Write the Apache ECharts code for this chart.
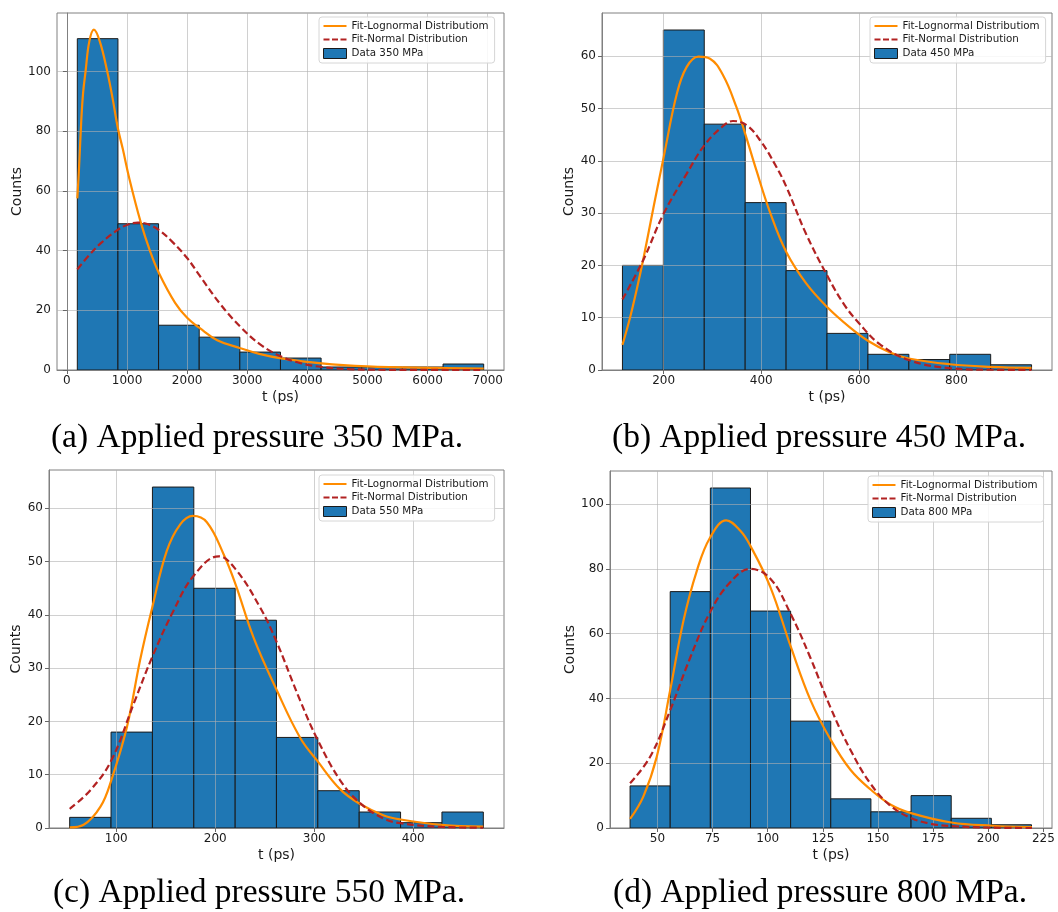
<!DOCTYPE html>
<html>
<head>
<meta charset="utf-8">
<title>Histogram fits</title>
<script src="https://cdn.jsdelivr.net/npm/echarts@6/dist/echarts.min.js"></script>
<style>
  html, body { margin: 0; padding: 0; background: #fff; }
  #main { width: 1058px; height: 912px; }
</style>
</head>
<body>
<div id="main"></div>
<script>
// ---- panel (a) 350 MPa ----
var edgesA = [173, 849, 1525, 2201, 2877, 3553, 4229, 4905, 5581, 6258, 6934];
var countsA = [111, 49, 15, 11, 6, 4, 1, 1, 1, 2];
var lognA = [[173,57.5],[200,67],[239,83.7],[270,93],[310,100],[372,110],[449,114],[548,110],[671,100],[760,91],[848,81],[930,74],[1040,64],[1225,49.7],[1380,40],[1530,32.5],[1800,22.5],[2000,17.5],[2212,14],[2500,10],[2885,7.3],[3200,5.4],[3566,3.9],[4238,2.2],[5000,1.2],[6000,0.7],[6934,0.5]];
var normA = [[173,33.7],[350,38],[560,42.4],[848,47],[1000,48.6],[1180,49.4],[1350,48.8],[1530,46.9],[1750,43],[2000,37.5],[2212,31.5],[2555,22],[2885,14.5],[3220,8.5],[3566,4.5],[3886,2.3],[4238,1],[4700,0.3],[5500,0.05],[6934,0]];
var xTicksA = [0, 1000, 2000, 3000, 4000, 5000, 6000, 7000];
var yTicksA = [0, 20, 40, 60, 80, 100];

// ---- panel (b) 450 MPa ----
var edgesB = [115.5, 199.4, 283.2, 367.1, 451, 534.8, 618.7, 702.6, 786.4, 870.3, 954.1];
var countsB = [20, 65, 47, 32, 19, 7, 3, 2, 3, 1];
var lognB = [[115.5,4.8],[131,10],[145,15.5],[160,22],[180,31.5],[200,40.7],[227,52.8],[247,57.9],[271,59.9],[295,59.5],[322,56.3],[349,50.3],[367,45.2],[390,38.2],[417.5,30.3],[451.6,22.5],[492.5,16.5],[535.5,12],[581,8.2],[618.6,5.6],[663,3.4],[702.5,2.2],[786.4,1.1],[870.2,0.6],[954,0.4]];
var normB = [[115.5,13.5],[158,21],[200,29.9],[247,37.5],[283,42.9],[320,46.5],[342,47.6],[370,46.8],[400,43.6],[430,39],[451.6,35],[492,26],[535.5,18],[570,12.5],[600,9],[642,5],[702.5,1.9],[786,0.35],[870,0.05],[954,0.02]];
var xTicksB = [200, 400, 600, 800];
var yTicksB = [0, 10, 20, 30, 40, 50, 60];

// ---- panel (c) 550 MPa ----
var edgesC = [52.9, 94.7, 136.5, 178.3, 220.1, 261.8, 303.6, 345.4, 387.2, 429, 470.8];
var countsC = [2, 18, 64, 45, 39, 17, 7, 3, 1, 3];
var lognC = [[52.9,0.1],[67,0.6],[84,4],[95,9],[110.8,19],[124,31.5],[136.3,41.4],[151,52],[164.6,57],[177.4,58.6],[191.5,57.4],[208.4,51.4],[220.4,45.8],[238.6,35.8],[261.8,26],[285.6,17],[303.5,12.5],[326,7.3],[345.5,4.6],[369.7,2.4],[387.3,1.6],[429,0.6],[470.7,0.25]];
var normC = [[52.9,3.6],[73.8,7.1],[95,12.7],[117.5,23.3],[136.3,32.1],[157.8,40.8],[178.4,47.4],[203.4,51],[220.4,48.6],[245.3,41.4],[261.8,35],[285.6,24],[303.5,16.5],[326,9],[345.5,4.8],[369.7,1.8],[387.3,0.9],[429,0.2],[470.7,0.05]];
var xTicksC = [100, 200, 300, 400];
var yTicksC = [0, 10, 20, 30, 40, 50, 60];

// ---- panel (d) 800 MPa ----
var edgesD = [37.6, 55.8, 74, 92.2, 110.4, 128.6, 146.8, 165, 183.2, 201.4, 219.6];
var countsD = [13, 73, 105, 67, 33, 9, 5, 10, 3, 1];
var lognD = [[37.6,2.8],[43.6,9.7],[49.7,22],[55.8,42.6],[61.8,64],[67.9,79.5],[73.9,89.7],[81.2,95],[87.6,91.8],[92.1,87.2],[101.2,74.4],[110.5,55.9],[119.4,39.5],[128.6,27.2],[137.6,17.9],[146.8,11.8],[155.8,7.2],[165,4.6],[183.3,1.7],[201.7,0.7],[219.8,0.3]];
var normD = [[37.6,13.8],[46.7,22],[55.8,36.4],[64.8,52.5],[73.9,66.7],[83,75.9],[92.1,80],[101.2,77],[110.5,66],[119.4,52.5],[128.6,37],[137.6,24],[146.8,13.5],[155.8,6.8],[165,3.1],[174,1.3],[183.3,0.6],[201.7,0.1],[219.8,0]];
var xTicksD = [50, 75, 100, 125, 150, 175, 200, 225];
var yTicksD = [0, 20, 40, 60, 80, 100];

var pressures = ['350', '450', '550', '800'];
var captions = ['(a) Applied pressure 350 MPa.', '(b) Applied pressure 450 MPa.',
                '(c) Applied pressure 550 MPa.', '(d) Applied pressure 800 MPa.'];

var LOGN = 'Fit-Lognormal Distributiom';
var NORM = 'Fit-Normal Distribution';
var FONT = 'DejaVu Sans';

var panels = [
  { edges: edgesA, counts: countsA, logn: lognA, norm: normA, xt: xTicksA, yt: yTicksA,
    grid: { left: 57, top: 13, width: 447, height: 357 }, x: [-165, 7272, 1000], y: [0, 119.6, 20],
    yGap: 29, legend: { left: 319, top: 17 }, cap: [257, 438] },
  { edges: edgesB, counts: countsB, logn: lognB, norm: normB, xt: xTicksB, yt: yTicksB,
    grid: { left: 602, top: 13, width: 450, height: 357 }, x: [73.6, 996, 200], y: [0, 68.25, 10],
    yGap: 22, legend: { left: 870, top: 17 }, cap: [819, 438] },
  { edges: edgesC, counts: countsC, logn: lognC, norm: normC, xt: xTicksC, yt: yTicksC,
    grid: { left: 49, top: 470, width: 455, height: 358 }, x: [32, 491.7, 100], y: [0, 67.2, 10],
    yGap: 23, legend: { left: 319, top: 475 }, cap: [259, 893] },
  { edges: edgesD, counts: countsD, logn: lognD, norm: normD, xt: xTicksD, yt: yTicksD,
    grid: { left: 610, top: 471, width: 442, height: 357 }, x: [28.5, 228.9, 25], y: [0, 110.25, 20],
    yGap: 30, legend: { left: 868, top: 476 }, cap: [820, 893] }
];

// legend handles drawn as paths: solid line and dashed line (bounding box forced to 23x10)
var solidIcon = 'path://M0,0 M23,10 M0,4 L23,4 L23,6 L0,6 Z';
var dashIcon = 'path://M0,0 M23,10 M0,4 L6,4 L6,6 L0,6 Z M8.5,4 L14.5,4 L14.5,6 L8.5,6 Z M17,4 L23,4 L23,6 L17,6 Z';

function histItem(params, api) {
  var p0 = api.coord([api.value(0), api.value(2)]);
  var p1 = api.coord([api.value(1), 0]);
  return {
    type: 'rect',
    shape: { x: p0[0], y: p0[1], width: p1[0] - p0[0], height: p1[1] - p0[1] },
    style: { fill: '#1f77b4', stroke: '#1a1a1a', lineWidth: 1 }
  };
}

function plain(v) { return String(v); }

var grids = [], xAxes = [], yAxes = [], series = [], legends = [], graphics = [];
var gridLine = { color: 'rgba(176,176,176,0.6)', width: 1 };

panels.forEach(function (p, i) {
  grids.push(Object.assign({ show: true, borderColor: '#808080', borderWidth: 1, backgroundColor: 'transparent' }, p.grid));

  xAxes.push({
    type: 'value', gridIndex: i, min: p.x[0], max: p.x[1], minInterval: p.x[2], maxInterval: p.x[2], z: 3,
    name: 't (ps)', nameLocation: 'middle', nameGap: 20,
    nameTextStyle: { fontFamily: FONT, fontSize: 14, color: '#1a1a1a' },
    axisLine: { show: true, onZero: false, lineStyle: { color: '#808080' } },
    axisTick: { show: true, length: 4, customValues: p.xt, lineStyle: { color: '#666' } },
    axisLabel: { fontFamily: FONT, fontSize: 12, color: '#1a1a1a', margin: 5, customValues: p.xt, formatter: plain },
    splitLine: { show: true, lineStyle: gridLine }
  });
  yAxes.push({
    type: 'value', gridIndex: i, min: p.y[0], max: p.y[1], minInterval: p.y[2], maxInterval: p.y[2], z: 3,
    name: 'Counts', nameLocation: 'middle', nameGap: p.yGap,
    nameTextStyle: { fontFamily: FONT, fontSize: 14, color: '#1a1a1a' },
    axisLine: { show: true, lineStyle: { color: '#808080' } },
    axisTick: { show: true, length: 4, customValues: p.yt, lineStyle: { color: '#666' } },
    axisLabel: { fontFamily: FONT, fontSize: 12, color: '#1a1a1a', margin: 6, customValues: p.yt, formatter: plain },
    splitLine: { show: true, lineStyle: gridLine }
  });

  var dataName = 'Data ' + pressures[i] + ' MPa';
  series.push({
    type: 'custom', name: dataName, xAxisIndex: i, yAxisIndex: i, z: 2,
    renderItem: histItem, encode: { x: [0, 1], y: 2 },
    itemStyle: { color: '#1f77b4', borderColor: '#1a1a1a', borderWidth: 1 },
    data: p.counts.map(function (c, k) { return [p.edges[k], p.edges[k + 1], c]; })
  });
  series.push({
    type: 'line', name: LOGN, xAxisIndex: i, yAxisIndex: i, z: 5,
    data: p.logn, symbol: 'none', showSymbol: false, smooth: 0.4,
    lineStyle: { color: '#ff8c00', width: 2.2 }, itemStyle: { color: '#ff8c00' }
  });
  series.push({
    type: 'line', name: NORM, xAxisIndex: i, yAxisIndex: i, z: 5,
    data: p.norm, symbol: 'none', showSymbol: false, smooth: 0.4,
    lineStyle: { color: '#b22222', width: 2.2, type: [7, 3.5] }, itemStyle: { color: '#b22222' }
  });

  legends.push({
    orient: 'vertical', left: p.legend.left, top: p.legend.top, z: 10,
    padding: [4, 6, 4, 4], itemGap: 3.5, itemWidth: 23, itemHeight: 10,
    selectedMode: false,
    borderColor: '#d6d6d6', borderWidth: 1, borderRadius: 3, backgroundColor: 'rgba(255,255,255,0.85)',
    textStyle: { fontFamily: FONT, fontSize: 10.3, color: '#1a1a1a' },
    data: [
      { name: LOGN, icon: solidIcon, itemStyle: { color: '#ff8c00', borderWidth: 0 } },
      { name: NORM, icon: dashIcon, itemStyle: { color: '#b22222', borderWidth: 0 } },
      { name: dataName, icon: 'rect', itemStyle: { color: '#1f77b4', borderColor: '#1a1a1a', borderWidth: 1 } }
    ]
  });

  graphics.push({
    type: 'text', x: p.cap[0], y: p.cap[1],
    style: { text: captions[i], fontFamily: 'Liberation Serif', fontSize: 33.5, fill: '#000',
             align: 'center', verticalAlign: 'middle' }
  });
});

var chart = echarts.init(document.getElementById('main'));
chart.setOption({
  animation: false,
  backgroundColor: '#fff',
  grid: grids,
  xAxis: xAxes,
  yAxis: yAxes,
  legend: legends,
  series: series,
  graphic: graphics
});
</script>
</body>
</html>
